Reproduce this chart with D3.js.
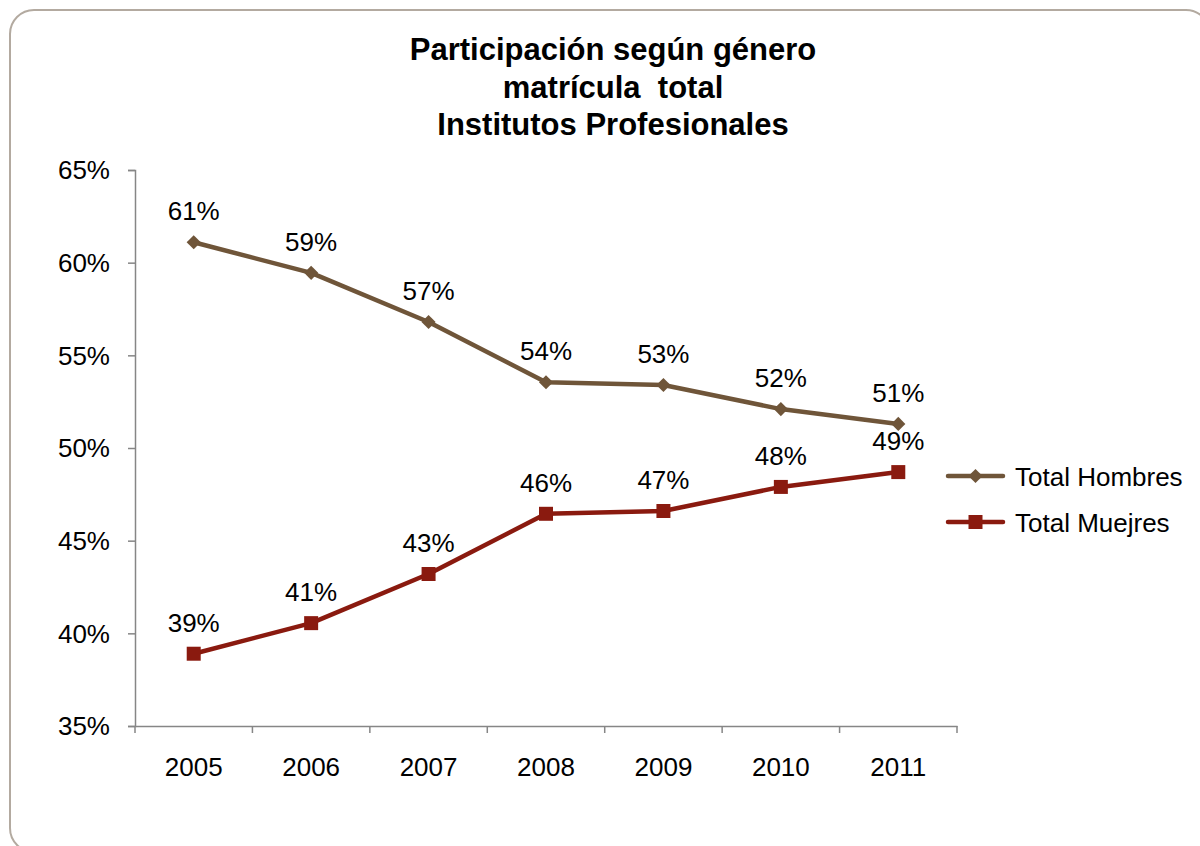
<!DOCTYPE html>
<html>
<head>
<meta charset="utf-8">
<script src="https://cdn.jsdelivr.net/npm/d3@7"></script>
<style>
  body { margin: 0; background: #fff; }
  text { font-family: "Liberation Sans", Arial, sans-serif; }
</style>
</head>
<body>
<svg id="chart" width="1200" height="846"></svg>
<script>
// data
const years = ["2005", "2006", "2007", "2008", "2009", "2010", "2011"];
const hombres = [61.1, 59.45, 56.8, 53.55, 53.4, 52.1, 51.3];
const mujeres = [38.9, 40.55, 43.2, 46.45, 46.6, 47.9, 48.7];
const yTicks = [35, 40, 45, 50, 55, 60, 65];
const titleLines = ["Participación según género", "matrícula  total", "Institutos Profesionales"];

const series = [
    { name: "Total Hombres", values: hombres, color: "#6f5539", marker: "diamond" },
    { name: "Total Muejres", values: mujeres, color: "#8a1a0f", marker: "square" }
];

const svg = d3.select("#chart");
const fontSize = "26px";

// outer rounded frame
svg.append("rect")
    .attr("x", 10).attr("y", 10)
    .attr("width", 1200).attr("height", 842)
    .attr("rx", 24)
    .attr("fill", "#fff")
    .attr("stroke", "#b3aaa0")
    .attr("stroke-width", 2);

// title
svg.append("text")
    .attr("x", 613)
    .attr("y", 60)
    .attr("text-anchor", "middle")
    .style("font-size", "31px")
    .style("font-weight", "bold")
    .selectAll("tspan")
    .data(titleLines)
    .enter()
    .append("tspan")
    .attr("x", 613)
    .attr("dy", (d, i) => i === 0 ? 0 : 37.5)
    .style("white-space", "pre")
    .text(d => d);

const plotLeft = 135, plotRight = 957, plotTop = 170, plotBottom = 726;

const x = d3.scaleBand().domain(years).range([plotLeft, plotRight]);
const y = d3.scaleLinear().domain([35, 65]).range([plotBottom, plotTop]);

// y axis
const yAxis = svg.append("g")
    .attr("transform", `translate(${plotLeft},0)`)
    .call(d3.axisLeft(y).tickValues(yTicks).tickSize(7).tickPadding(18).tickFormat(d => d + "%"));
yAxis.selectAll("text").style("font-size", fontSize).attr("fill", "#000")
    .attr("dy", "0.34em");

// x axis with ticks between categories
const xAxis = svg.append("g")
    .attr("transform", `translate(0,${plotBottom})`)
    .call(d3.axisBottom(x).tickSize(0).tickPadding(32));
xAxis.selectAll("text").style("font-size", fontSize).attr("fill", "#000");
xAxis.selectAll(".sep")
    .data(d3.range(years.length + 1))
    .enter()
    .append("line")
    .attr("class", "sep")
    .attr("x1", i => plotLeft + i * x.step())
    .attr("x2", i => plotLeft + i * x.step())
    .attr("y1", 0).attr("y2", 7)
    .attr("stroke", "#868686")
    .attr("stroke-width", 1.5);

svg.selectAll(".domain").attr("stroke", "#868686").attr("stroke-width", 1.5);
svg.selectAll(".tick line").attr("stroke", "#868686").attr("stroke-width", 1.5);

const cx = d => x(d) + x.bandwidth() / 2;

const line = d3.line()
    .x((d, i) => cx(years[i]))
    .y(d => y(d));

// square markers; diamonds are the same square turned 45 degrees
const squareSym = d3.symbol().type(d3.symbolSquare).size(196);
const diamondSym = d3.symbol().type(d3.symbolSquare).size(100);
const markerPath = m => m === "square" ? squareSym() : diamondSym();
const markerRot = m => m === "square" ? "" : " rotate(45)";

series.forEach(s => {
    svg.append("path")
        .datum(s.values)
        .attr("d", line)
        .attr("fill", "none")
        .attr("stroke", s.color)
        .attr("stroke-width", 4.5)
        .attr("stroke-linejoin", "round");

    svg.selectAll(null)
        .data(s.values)
        .enter()
        .append("path")
        .attr("d", markerPath(s.marker))
        .attr("transform", (d, i) => `translate(${cx(years[i])},${y(d)})${markerRot(s.marker)}`)
        .attr("fill", s.color);

    svg.selectAll(null)
        .data(s.values)
        .enter()
        .append("text")
        .attr("x", (d, i) => cx(years[i]))
        .attr("y", d => y(d) - 22)
        .attr("text-anchor", "middle")
        .style("font-size", fontSize)
        .text(d => Math.round(d) + "%");
});

// legend
const legend = svg.append("g");
series.forEach((s, i) => {
    const ly = 476 + i * 46;
    legend.append("line")
        .attr("x1", 948).attr("x2", 1003)
        .attr("y1", ly).attr("y2", ly)
        .attr("stroke", s.color)
        .attr("stroke-width", 4.5)
        .attr("stroke-linecap", "round");
    legend.append("path")
        .attr("d", markerPath(s.marker))
        .attr("transform", `translate(975.5,${ly})${markerRot(s.marker)}`)
        .attr("fill", s.color);
    legend.append("text")
        .attr("x", 1015)
        .attr("y", ly + 10)
        .style("font-size", fontSize)
        .text(s.name);
});
</script>
</body>
</html>
